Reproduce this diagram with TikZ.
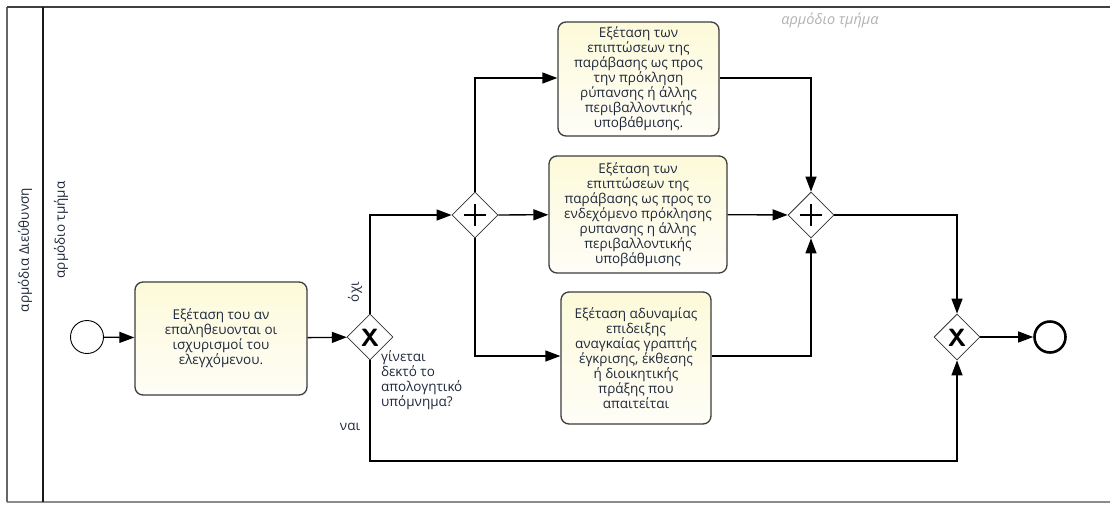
\documentclass[tikz,border=0pt]{standalone}
\usepackage{fontspec}
\setmainfont{Open Sans}
\usetikzlibrary{arrows.meta,shapes.geometric,positioning}
\definecolor{txt}{HTML}{1E283C}
\definecolor{taskfill}{HTML}{FBF7C0}
\definecolor{taskline}{HTML}{3C3C3C}
\tikzset{
  task/.style={draw=taskline,line width=1.3pt,rounded corners=8pt,top color=white!40!taskfill,bottom color=taskfill!90!orange!10,align=center,text=txt,font=\fontsize{13.5}{15}\selectfont,inner sep=0pt},
  gw/.style={draw=black!80,line width=0.8pt,fill=white,diamond,minimum width=46pt,minimum height=46pt,inner sep=0pt},
  flow/.style={line width=1.3pt,-{Triangle[length=15pt,width=11pt]}},
  lbl/.style={text=txt,font=\fontsize{13.5}{15}\selectfont},
}
\begin{document}
\begin{tikzpicture}[x=1pt,y=-1pt]
\useasboundingbox (0,0) rectangle (1110,504);
% pool
\draw[black!45,line width=1.2pt] (7,502) -- (1110,502);
\draw[black!60,line width=1.2pt] (7,7) -- (7,502);
\draw[black!75,line width=2pt] (7,7) -- (1110,7);
\draw[black!90,line width=1.8pt] (43,7) -- (43,502);
\node[lbl,rotate=90] (pool) at (25,250) {αρμόδια Διεύθυνση};
\node[lbl,rotate=90] (lane) at (61,230) {αρμόδιο τμήμα};
\node[text=black!30,font=\fontsize{14.5}{15}\selectfont\itshape] (lanetop) at (830,20) {αρμόδιο τμήμα};
% events
\node[draw=black,line width=0.9pt,circle,minimum size=33pt,inner sep=0pt] (start) at (87,337) {};
\node[draw=black,line width=2.6pt,circle,minimum size=31pt,inner sep=0pt] (end) at (1050,337) {};
% tasks
\node[task,minimum width=172pt,minimum height=113pt] (t1) at (221,338.5) {Εξέταση του αν\\επαληθευονται οι\\ισχυρισμοί του\\ελεγχόμενου.};
\node[task,minimum width=161pt,minimum height=114pt] (ta) at (638.5,79) {Εξέταση των\\επιπτώσεων της\\παράβασης ως προς\\την πρόκληση\\ρύπανσης ή άλλης\\περιβαλλοντικής\\υποβάθμισης.};
\node[task,minimum width=178pt,minimum height=117pt] (tb) at (638,214.5) {Εξέταση των\\επιπτώσεων της\\παράβασης ως προς το\\ενδεχόμενο πρόκλησης\\ρυπανσης η άλλης\\περιβαλλοντικής\\υποβάθμισης};
\node[task,minimum width=150pt,minimum height=132pt] (tc) at (636,358) {Εξέταση αδυναμίας\\επιδειξης\\αναγκαίας γραπτής\\έγκρισης, έκθεσης\\ή διοικητικής\\πράξης που\\απαιτείται};
% gateways
\node[gw] (x1) at (370,337) {};
\node[font=\sffamily\bfseries\fontsize{25}{25}\selectfont] (x1m) at (370,338) {X};
\node[gw] (p1) at (475,215) {};
\node[gw] (p2) at (811,215) {};
\node[gw] (x2) at (957,337) {};
\node[font=\sffamily\bfseries\fontsize{25}{25}\selectfont] (x2m) at (957,338) {X};
\foreach \g in {p1,p2}{
  \draw[line width=2.8pt] ([xshift=-11pt]\g.center) -- ([xshift=11pt]\g.center);
  \draw[line width=2.8pt] ([yshift=-11pt]\g.center) -- ([yshift=11pt]\g.center);
}
% labels
\node[lbl,rotate=90] (no) at (355,292) {όχι};
\node[lbl,anchor=north west,align=left,inner sep=0pt] (q) at (381,350) {γίνεται\\δεκτό το\\απολογητικό\\υπόμνημα?};
\node[lbl] (yes) at (350,427) {ναι};
% flows
\draw[flow] (start) -- (t1);
\draw[flow] (t1) -- (x1);
\draw[flow] (x1.north) |- (p1.west);
\draw[flow] (x1.south) -- (370,461) -| (x2.south);
\draw[flow] (p1.north) |- (ta.west |- 0,78);
\draw[flow] (p1) -- (tb);
\draw[flow] (p1.south) |- (tc.west |- 0,356);
\draw[flow] (ta.east |- 0,78) -| (p2.north);
\draw[flow] (tb) -- (p2);
\draw[flow] (tc.east |- 0,356) -| (p2.south);
\draw[flow] (p2.east) -| (x2.north);
\draw[flow] (x2) -- (end);
\end{tikzpicture}
\end{document}
